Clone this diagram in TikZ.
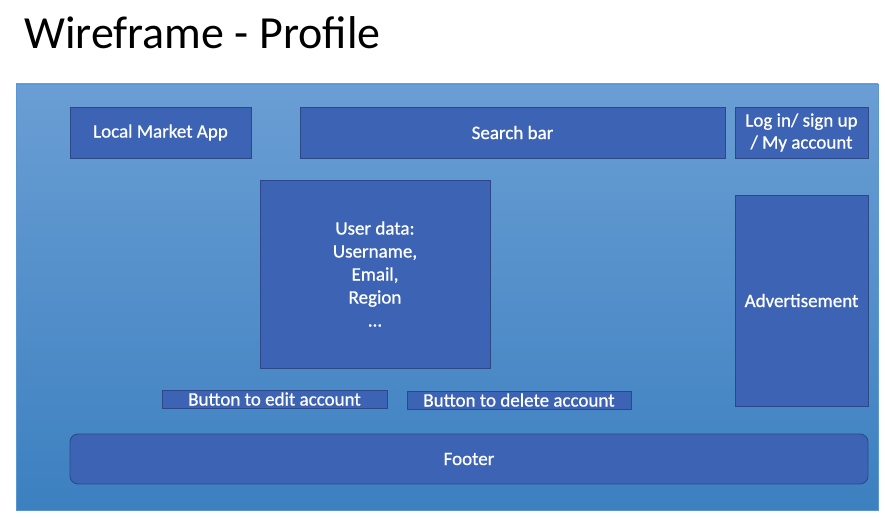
\documentclass[tikz,border=0pt]{standalone}
\usepackage{fontspec}
\setmainfont{Carlito}
\newfontfamily\boxfont[FakeBold=0.7]{Carlito}
\definecolor{paneltop}{RGB}{106,158,212}
\definecolor{panelbot}{RGB}{60,128,192}
\definecolor{panelrim}{RGB}{90,150,210}
\definecolor{boxfill}{RGB}{61,100,180}
\definecolor{boxrim}{RGB}{45,72,135}
\begin{document}
\begin{tikzpicture}[x=1pt,y=-1pt,
  wbox/.style={draw=boxrim,line width=0.9pt,fill=boxfill,text=white,
    font=\boxfont\fontsize{19}{23}\selectfont,align=center,inner sep=0pt},
  wbtn/.style={wbox,font=\boxfont\fontsize{19}{20}\selectfont}]
\useasboundingbox (0,0) rectangle (885,518);
\node[anchor=base west,font=\fontsize{46}{52}\selectfont,inner sep=0pt] (title) at (24,49) {Wireframe - Profile};
% page panel
\shade[top color=paneltop,bottom color=panelbot,draw=panelrim,line width=0.8pt]
  (16,84) rectangle (878,510);
% header row
\node[wbox,minimum width=181pt,minimum height=51pt] (logo) at (160.5,132.5) {Local Market App};
\node[wbox,minimum width=425pt,minimum height=51pt] (search) at (512.5,132.5) {Search bar};
\node[wbox,minimum width=133pt,minimum height=51pt,font=\boxfont\fontsize{19}{22}\selectfont] (login) at (801.5,132.5) {Log in/ sign up\\/ My account};
% content
\node[wbox,minimum width=230pt,minimum height=188pt] (user) at (375,274) {User data:\\Username,\\Email,\\Region\\\dots};
\node[wbox,minimum width=133pt,minimum height=211pt] (ad) at (801.5,300.5) {Advertisement};
\node[wbtn,minimum width=225pt,minimum height=18pt] (edit) at (274.5,399) {Button to edit account};
\node[wbtn,minimum width=224pt,minimum height=18pt] (delete) at (519,400) {Button to delete account};
\node[wbox,rounded corners=8pt,minimum width=798pt,minimum height=50pt] (footer) at (469,459) {Footer};
\end{tikzpicture}
\end{document}
